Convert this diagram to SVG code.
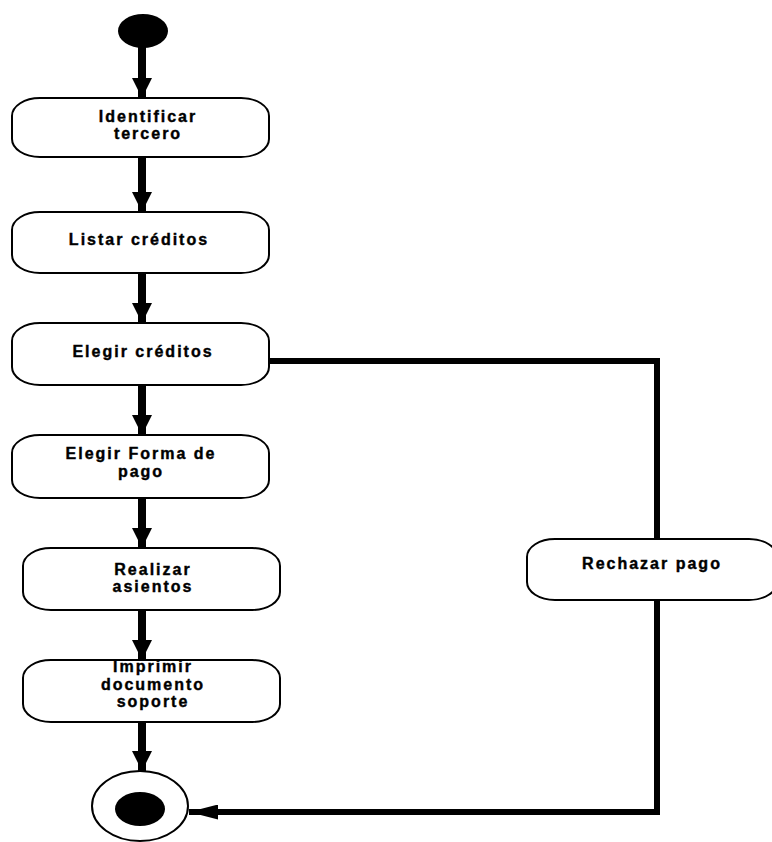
<svg xmlns="http://www.w3.org/2000/svg" width="772" height="842" viewBox="0 0 772 842">
  <style>
    .act { fill: #ffffff; stroke: #000000; stroke-width: 2; }
    .lbl { font-family: "Liberation Sans", Arial, sans-serif; font-weight: bold; font-size: 16px; letter-spacing: 2px; fill: #000000; stroke: #000000; stroke-width: 0.4; text-anchor: middle; }
    .flow { stroke: #000000; stroke-width: 8; fill: none; }
    .side { stroke: #000000; stroke-width: 6; fill: none; }
  </style>
  <defs>
    <marker id="head" markerUnits="userSpaceOnUse" markerWidth="20" markerHeight="20" refX="20" refY="10" orient="auto" viewBox="0 0 20 20">
      <path d="M0,0 L20,10 L0,20 Z" fill="#000000"/>
    </marker>
    <marker id="headSmall" markerUnits="userSpaceOnUse" markerWidth="29" markerHeight="15" refX="29" refY="7.5" orient="auto" viewBox="0 0 29 15">
      <path d="M0,0 L29,7.5 L0,15 Z" fill="#000000"/>
    </marker>
  </defs>
  <rect width="772" height="842" fill="#ffffff"/>

  <!-- connectors -->
  <g id="connectors">
    <line class="flow" x1="142" y1="46" x2="142" y2="98" marker-end="url(#head)"/>
    <line class="flow" x1="142" y1="157" x2="142" y2="212" marker-end="url(#head)"/>
    <line class="flow" x1="142" y1="273" x2="142" y2="323" marker-end="url(#head)"/>
    <line class="flow" x1="142" y1="385" x2="142" y2="435" marker-end="url(#head)"/>
    <line class="flow" x1="142" y1="498" x2="142" y2="548" marker-end="url(#head)"/>
    <line class="flow" x1="142" y1="610" x2="142" y2="660" marker-end="url(#head)"/>
    <line class="flow" x1="142" y1="722" x2="142" y2="771" marker-end="url(#head)"/>
    <polyline class="side" points="269,361 657,361 657,540"/>
    <polyline class="side" points="657,600 657,812 189,812" marker-end="url(#headSmall)"/>
  </g>

  <!-- initial state -->
  <g id="start">
    <ellipse cx="143" cy="31" rx="25" ry="17" fill="#000000"/>
  </g>

  <g id="identificar">
    <rect class="act" x="12" y="98" width="257" height="59" rx="28" ry="18"/>
    <text class="lbl" x="148" y="122">Identificar</text>
    <text class="lbl" x="148" y="139">tercero</text>
  </g>

  <g id="listar">
    <rect class="act" x="12" y="212" width="257" height="61" rx="28" ry="18"/>
    <text class="lbl" x="139" y="245">Listar créditos</text>
  </g>

  <g id="elegir-creditos">
    <rect class="act" x="12" y="323" width="257" height="62" rx="28" ry="18"/>
    <text class="lbl" x="143" y="357">Elegir créditos</text>
  </g>

  <g id="elegir-forma">
    <rect class="act" x="12" y="435" width="257" height="63" rx="28" ry="18"/>
    <text class="lbl" x="141" y="459">Elegir Forma de</text>
    <text class="lbl" x="141" y="477">pago</text>
  </g>

  <g id="realizar">
    <rect class="act" x="23" y="548" width="257" height="62" rx="28" ry="18"/>
    <text class="lbl" x="153" y="575">Realizar</text>
    <text class="lbl" x="153" y="592">asientos</text>
  </g>

  <g id="imprimir">
    <rect class="act" x="23" y="660" width="257" height="62" rx="28" ry="18"/>
    <text class="lbl" x="153" y="672">Imprimir</text>
    <text class="lbl" x="153" y="690">documento</text>
    <text class="lbl" x="153" y="707">soporte</text>
  </g>

  <g id="rechazar">
    <rect class="act" x="527" y="539" width="250" height="61" rx="28" ry="18"/>
    <text class="lbl" x="652" y="569">Rechazar pago</text>
  </g>

  <!-- final state -->
  <g id="end">
    <ellipse cx="140" cy="806" rx="48" ry="35" fill="#ffffff" stroke="#000000" stroke-width="2"/>
    <ellipse cx="140" cy="809" rx="25" ry="17" fill="#000000"/>
  </g>
</svg>
